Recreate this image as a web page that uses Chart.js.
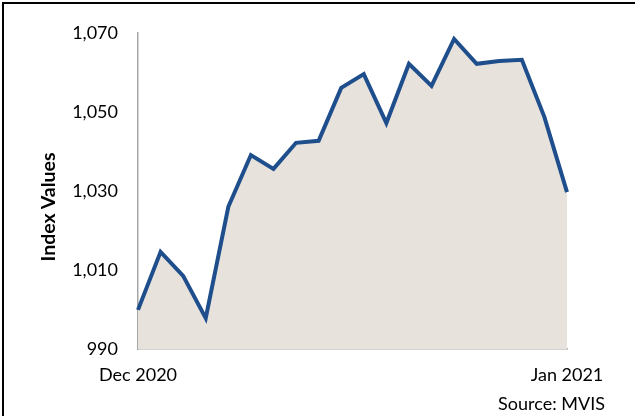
<!DOCTYPE html>
<html>
<head>
<meta charset="utf-8">
<script src="https://cdn.jsdelivr.net/npm/chart.js@4.4.1/dist/chart.umd.min.js"></script>
<style>
  body { margin: 0; background: #fff; }
  #wrap { position: relative; width: 635px; height: 416px; }
  #frame { position: absolute; left: 2px; top: 2px; width: 640px; height: 412px;
           border-top: 2px solid #000; border-left: 2px solid #000; border-bottom: 2px solid #000; }
  #ytitle { position: absolute; left: 47px; top: 207px; transform: translate(-50%, -50%) rotate(-90deg);
            font: bold 19.5px Lato, sans-serif; color: #000; white-space: nowrap; }
  #source { position: absolute; right: 30px; top: 392px; font: 18px Lato, sans-serif; color: #000; }
  canvas { position: absolute; left: 0; top: 0; }
</style>
</head>
<body>
<div id="wrap">
  <canvas id="chart" width="635" height="416"></canvas>
  <div id="frame"></div>
  <div id="ytitle">Index Values</div>
  <div id="source">Source: MVIS</div>
</div>
<script>
// daily index values, Dec 2020 -> Jan 2021
let days = ['Dec 2020', '', '', '', '', '', '', '', '', '', '', '', '', '', '', '', '', '', '', 'Jan 2021'];
let values = [999.9, 1014.6, 1008.5, 997.8, 1026.0, 1039.1, 1035.6, 1042.2, 1042.7, 1056.1,
              1059.6, 1047.2, 1062.2, 1056.6, 1068.5, 1062.2, 1062.9, 1063.2, 1048.7, 1029.7];
let yTicks = [990, 1010, 1030, 1050, 1070];

var ctx = document.getElementById('chart');

new Chart(ctx, {
  type: 'line',
  data: {
    labels: days,
    datasets: [{
      data: values,
      borderColor: '#1F4E8C',
      backgroundColor: '#E7E3DC',
      borderWidth: 4,
      fill: 'start',
      pointRadius: 0,
      tension: 0
    }]
  },
  options: {
    responsive: false,
    animation: false,
    layout: { padding: { top: 33, right: 68, bottom: 0, left: 0 } },
    plugins: { legend: { display: false }, tooltip: { enabled: false } },
    scales: {
      x: {
        grid: { display: false, drawTicks: false },
        border: { display: true, color: '#A6A6A6', width: 1.5 },
        ticks: { autoSkip: false, maxRotation: 0, padding: 15, color: '#000',
                 font: { family: 'Lato', size: 18 } },
        afterFit: function(s) { s.height = 67; }
      },
      y: {
        min: 990, max: 1070,
        grid: { display: false, drawTicks: false },
        border: { display: true, color: '#A6A6A6', width: 1.5 },
        afterBuildTicks: function(s) { s.ticks = yTicks.map(v => ({ value: v })); },
        ticks: { padding: 20, color: '#000', font: { family: 'Lato', size: 18 },
                 callback: v => v.toLocaleString('en-US') },
        afterFit: function(s) { s.width = 138; }
      }
    }
  }
});
</script>
</body>
</html>
